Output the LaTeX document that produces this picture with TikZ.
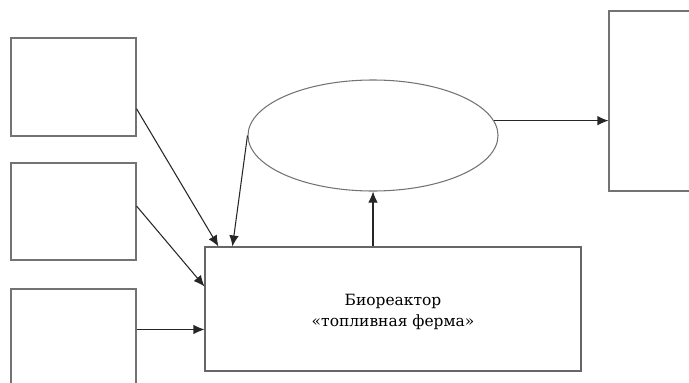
\documentclass[tikz,border=0pt]{standalone}
\usepackage{fontspec}
\setmainfont{DejaVu Serif}
\usetikzlibrary{shapes.geometric,arrows.meta}
\begin{document}
\begin{tikzpicture}[>={Latex[length=2.2mm,width=1.9mm]}, line width=0.6pt,
    src/.style={draw=black!55, rectangle, minimum width=2.5cm, inner sep=0pt},
    reactor/.style={draw=black!60, rectangle, minimum width=7.52cm, minimum height=2.48cm, align=center, font=\fontsize{8.8}{12}\selectfont},
    cloud/.style={draw=black!55, ellipse, minimum width=5cm, minimum height=2.22cm, inner sep=0pt},
    flow/.style={->, draw=black!85}]

    \useasboundingbox (0,0) rectangle (13.78,7.64);

    % === источники слева ===
    \node[src, minimum height=1.96cm] (s1) at (1.47, 5.90) {};
    \node[src, minimum height=1.94cm] (s2) at (1.47, 3.41) {};
    \node[src, minimum height=2.22cm] (s3) at (1.47, 0.75) {};

    % === биореактор ===
    \node[reactor] (R) at (7.86, 1.46) {\\[-2pt]Биореактор\\«топливная ферма»};

    % === эллипс и правый блок ===
    \node[cloud] (E) at (7.46, 4.93) {};
    \node[src, minimum width=1.82cm, minimum height=3.6cm] (T) at (13.09, 5.62) {};

    % === связи ===
    \draw[flow] (s1.-19) -- ([xshift=0.28cm]R.north west);
    \draw[flow] (s2.5) -- ([yshift=-0.8cm]R.north west);
    \coordinate (c3) at ([yshift=-0.82cm]s3.north east);
    \draw[flow] (c3) -- (c3 -| R.west);

    % обратная связь
    \draw[flow] (E.west) -- ([xshift=0.56cm]R.north west);
    \draw[flow] (E.south |- R.north) -- (E.south);

    % выход
    \draw[flow] (E.7) -- (E.7 -| T.west);

\end{tikzpicture}
\end{document}
